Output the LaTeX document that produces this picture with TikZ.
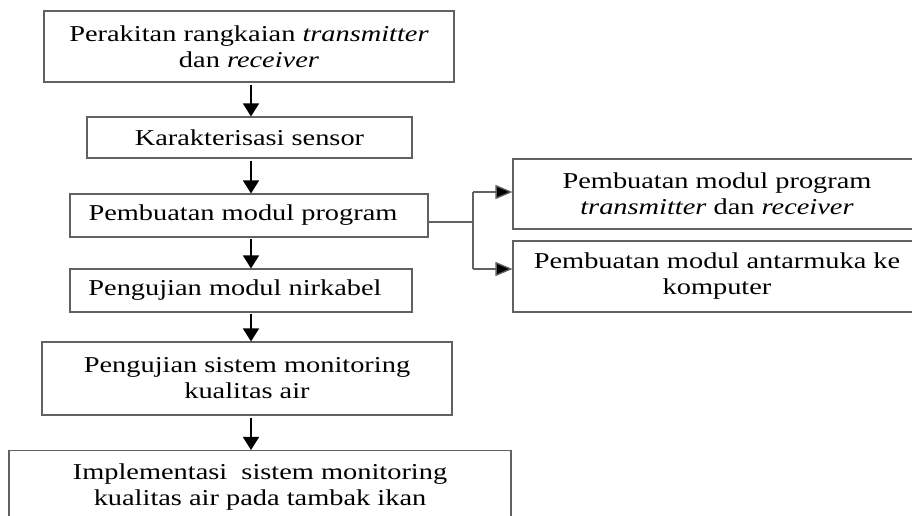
\documentclass[tikz,border=0pt]{standalone}
\usepackage{fontspec}
\setmainfont{Liberation Serif}[FakeStretch=1.25]
\usetikzlibrary{arrows.meta}
\begin{document}
\begin{tikzpicture}[x=1pt,y=-1pt,
  box/.style={draw=black!62, line width=1.1pt, inner sep=0pt, align=center,
    font=\fontsize{22.7}{26}\selectfont},
  arr/.style={line width=1.4pt, -{Triangle[width=16pt,length=13pt]}},
  link/.style={line width=1.3pt, draw=black!62},
  barr/.style={-{Triangle[width=14pt,length=17pt,fill=black]}}]
\useasboundingbox[fill=white] (0,0) rectangle (912,515);
\node[box, minimum width=410pt, minimum height=71pt] (b1) at (249,46.5)
  {Perakitan rangkaian \textit{transmitter}\\dan \textit{receiver}};
\node[box, minimum width=325pt, minimum height=41pt] (b2) at (249.5,137.5)
  {Karakterisasi sensor};
\node[box, minimum width=358pt, minimum height=43pt] (b3) at (249,215.5)
  {Pembuatan modul program\hspace*{12pt}};
\node[box, minimum width=342pt, minimum height=43pt] (b4) at (241,290.5)
  {Pengujian modul nirkabel\hspace*{12pt}};
\node[box, minimum width=410pt, minimum height=73pt] (b5) at (247,378.5)
  {Pengujian sistem monitoring\\kualitas air};
\node[box, minimum width=502pt, minimum height=73pt] (b6) at (260,487)
  {Implementasi\ \ sistem monitoring\\kualitas air pada tambak ikan};
\node[box, minimum width=408pt, minimum height=70pt] (r1) at (717,194)
  {Pembuatan modul program\\\textit{transmitter} dan \textit{receiver}};
\node[box, minimum width=408pt, minimum height=71pt] (r2) at (717,276.5)
  {Pembuatan modul antarmuka ke\\komputer};
\coordinate (ax) at (251,0);
\draw[arr, shorten <=2pt] (b1.south -| ax) -- (b2.north -| ax);
\draw[arr, shorten <=2pt] (b2.south -| ax) -- (b3.north -| ax);
\draw[arr, shorten <=1pt] (b3.south -| ax) -- (b4.north -| ax);
\draw[arr, shorten <=1pt] (b4.south -| ax) -- (b5.north -| ax);
\draw[arr, shorten <=2pt] (b5.south -| ax) -- (b6.north -| ax);
\coordinate (j) at (473,222);
\coordinate (jt) at (473,192);
\coordinate (jb) at (473,269);
\draw[link] (b3.east |- j) -- (j);
\draw[link] (jt) -- (jb);
\draw[link, barr] (jt) -- (r1.west |- jt);
\draw[link, barr] (jb) -- (r2.west |- jb);
\end{tikzpicture}
\end{document}
